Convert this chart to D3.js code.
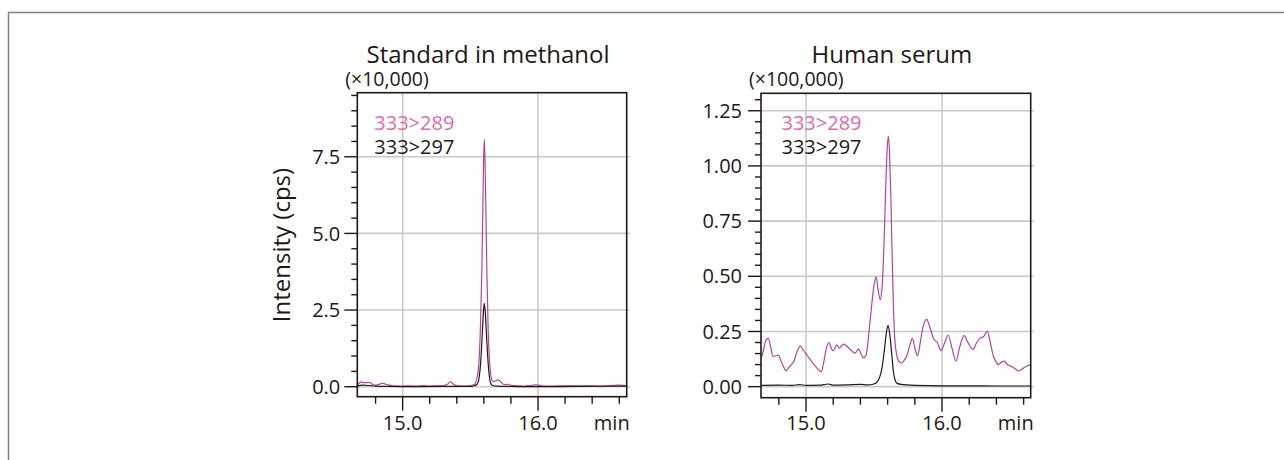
<!DOCTYPE html>
<html><head><meta charset="utf-8">
<script src="https://cdn.jsdelivr.net/npm/d3@7"></script>
<style>
html,body{margin:0;padding:0;background:#fff;}
svg{display:block;font-family:"Open Sans",sans-serif;}
</style></head>
<body><svg id="c" width="1284" height="460"></svg>
<script>
// ---------- DATA ----------
const panelTitles = ["Standard in methanol", "Human serum"];
const scaleLabels = ["(×10,000)", "(×100,000)"];
const seriesNames = ["333>289", "333>297"];
const xTickLabels = ["15.0", "16.0"];
const xMajorTicks = [15.0, 16.0];
const xMinorTicks = [14.8, 15.2, 15.4, 15.6, 15.8, 16.2, 16.4, 16.6];
const yMajorStd = [0, 2.5, 5.0, 7.5];
const yMajorSerum = [0, 0.25, 0.5, 0.75, 1.0, 1.25];

// Standard in methanol, 333>289 (×10,000 cps)
const stdT289 = [14.665,14.68,14.697,14.713,14.729,14.745,14.76,14.78,14.796,14.82,14.84,14.857,14.875,14.9,14.919,14.95,15.0,15.05,15.1,15.15,15.2,15.25,15.3,15.33,15.355,15.375,15.4,15.45,15.5,15.525,15.54,15.55,15.565,15.575,15.585,15.593,15.598,15.603,15.608,15.614,15.622,15.632,15.642,15.652,15.662,15.675,15.69,15.705,15.72,15.74,15.76,15.78,15.8,15.85,15.9,15.95,15.99,16.03,16.1,16.2,16.3,16.4,16.45,16.5,16.6,16.655];
const stdI289 = [0.06,0.12,0.16,0.13,0.13,0.14,0.13,0.07,0.05,0.07,0.10,0.11,0.08,0.05,0.04,0.03,0.02,0.03,0.02,0.04,0.02,0.03,0.03,0.08,0.16,0.08,0.03,0.02,0.03,0.06,0.15,0.30,0.90,2.0,3.8,6.0,7.4,8.07,7.4,6.0,3.8,1.8,0.8,0.35,0.20,0.16,0.20,0.22,0.18,0.09,0.07,0.08,0.04,0.03,0.02,0.04,0.06,0.03,0.02,0.03,0.02,0.03,0.02,0.03,0.05,0.04];
// Standard in methanol, 333>297
const stdT297 = [14.665,14.7,14.75,14.8,14.9,15.0,15.3,15.5,15.53,15.55,15.565,15.578,15.588,15.596,15.603,15.61,15.618,15.628,15.64,15.652,15.665,15.7,15.8,16.0,16.3,16.655];
const stdI297 = [0.02,0.05,0.04,0.02,0.01,0.0,0.01,0.01,0.03,0.08,0.30,0.90,1.7,2.4,2.72,2.45,1.8,1.0,0.35,0.10,0.04,0.02,0.01,0.0,0.01,0.02];

// Human serum, 333>289 (×100,000 cps)
const serT289 = [14.669,14.685,14.705,14.723,14.74,14.757,14.78,14.797,14.815,14.835,14.853,14.87,14.89,14.91,14.935,14.958,14.98,15.01,15.04,15.07,15.09,15.112,15.13,15.15,15.168,15.185,15.2,15.213,15.225,15.245,15.275,15.295,15.32,15.34,15.358,15.37,15.385,15.405,15.422,15.435,15.446,15.465,15.483,15.5,15.515,15.53,15.545,15.558,15.572,15.585,15.596,15.605,15.614,15.624,15.633,15.642,15.652,15.665,15.68,15.703,15.72,15.74,15.76,15.782,15.8,15.82,15.84,15.86,15.887,15.91,15.94,15.965,15.993,16.02,16.045,16.075,16.103,16.13,16.163,16.19,16.228,16.255,16.28,16.305,16.333,16.355,16.377,16.395,16.414,16.435,16.456,16.48,16.5,16.53,16.561,16.59,16.623,16.652];
const serI289 = [0.125,0.16,0.21,0.219,0.18,0.137,0.14,0.143,0.118,0.09,0.071,0.084,0.099,0.113,0.16,0.185,0.165,0.14,0.115,0.092,0.078,0.067,0.11,0.175,0.2,0.175,0.162,0.175,0.189,0.175,0.193,0.185,0.172,0.16,0.152,0.158,0.171,0.148,0.13,0.135,0.155,0.26,0.37,0.46,0.497,0.44,0.394,0.44,0.62,0.88,1.07,1.135,1.06,0.85,0.6,0.38,0.22,0.15,0.118,0.106,0.118,0.138,0.18,0.219,0.175,0.14,0.2,0.27,0.305,0.27,0.215,0.2,0.163,0.2,0.234,0.17,0.116,0.18,0.231,0.2,0.169,0.2,0.22,0.226,0.252,0.2,0.14,0.115,0.1,0.11,0.116,0.1,0.094,0.085,0.071,0.08,0.094,0.1];
// Human serum, 333>297
const serT297 = [14.669,14.8,14.9,14.95,15.0,15.1,15.165,15.2,15.3,15.4,15.45,15.5,15.52,15.54,15.56,15.575,15.59,15.603,15.615,15.63,15.642,15.655,15.67,15.7,15.8,16.0,16.2,16.4,16.652];
const serI297 = [0.006,0.007,0.006,0.009,0.006,0.007,0.012,0.007,0.008,0.01,0.008,0.012,0.02,0.04,0.09,0.16,0.24,0.278,0.24,0.15,0.07,0.03,0.015,0.01,0.006,0.004,0.004,0.003,0.003];

// ---------- DRAW ----------
const svg = d3.select("#c");
const INK = "#231815", PINK_LINE = "#b0449f", PINK_TEXT = "#e06aad", GRID = "#c8c8c8";

// outer frame (left and top)
svg.append("path").attr("d","M8.5,460 V12.5 H1284").attr("fill","none").attr("stroke","#808080").attr("stroke-width",1.5);

const panels = [
  {x0:357.3, x1:626.7, y0:92.7, y1:396.7, xd:[14.665,16.655], yd:[-0.326,9.59],
   yMajor:yMajorStd, yMinorStep:0.5, yMinorMax:9.5, fmt:d3.format(".1f"), labGap:17,
   series:[[stdT289,stdI289],[stdT297,stdI297]]},
  {x0:761, x1:1030.7, y0:93.3, y1:397.7, xd:[14.669,16.652], yd:[-0.05,1.329],
   yMajor:yMajorSerum, yMinorStep:0.05, yMinorMax:1.30, fmt:d3.format(".2f"), labGap:19,
   series:[[serT289,serI289],[serT297,serI297]]}
];

panels.forEach((p, pi) => {
  const x = d3.scaleLinear().domain(p.xd).range([p.x0, p.x1]);
  const y = d3.scaleLinear().domain(p.yd).range([p.y1, p.y0]);
  const g = svg.append("g");
  const cid = "clip" + pi;
  svg.append("clipPath").attr("id", cid).append("rect")
    .attr("x", p.x0).attr("y", p.y0).attr("width", p.x1 - p.x0).attr("height", p.y1 - p.y0);

  // grid
  g.selectAll(".hg").data(p.yMajor).join("line")
    .attr("x1", p.x0).attr("x2", p.x1 + 3).attr("y1", d => y(d)).attr("y2", d => y(d))
    .attr("stroke", GRID).attr("stroke-width", 1.6);
  g.selectAll(".vg").data(xMajorTicks).join("line")
    .attr("x1", d => x(d)).attr("x2", d => x(d)).attr("y1", p.y0).attr("y2", p.y1)
    .attr("stroke", GRID).attr("stroke-width", 1.6);

  // traces
  const line = d3.line().x(d => x(d[0])).y(d => y(d[1])).curve(d3.curveMonotoneX);
  const cols = [PINK_LINE, INK];
  p.series.forEach((s, si) => {
    const pts = s[0].map((t, i) => [t, s[1][i]]);
    g.append("path").datum(pts).attr("d", line).attr("fill", "none")
      .attr("stroke", cols[si]).attr("stroke-width", 1.2).attr("clip-path", `url(#${cid})`);
  });

  // frame
  g.append("rect").attr("x", p.x0).attr("y", p.y0).attr("width", p.x1 - p.x0).attr("height", p.y1 - p.y0)
    .attr("fill", "none").attr("stroke", INK).attr("stroke-width", 1.6);

  // y ticks
  const nMinor = Math.round(p.yMinorMax / p.yMinorStep);
  const yMinor = d3.range(0, nMinor + 1).map(i => +(i * p.yMinorStep).toFixed(4))
    .filter(v => !p.yMajor.some(m => Math.abs(m - v) < 1e-6));
  g.selectAll(".ymn").data(yMinor).join("line")
    .attr("x1", p.x0 - 6).attr("x2", p.x0).attr("y1", d => y(d)).attr("y2", d => y(d))
    .attr("stroke", INK).attr("stroke-width", 1.4);
  g.selectAll(".ymj").data(p.yMajor).join("line")
    .attr("x1", p.x0 - 13).attr("x2", p.x0).attr("y1", d => y(d)).attr("y2", d => y(d))
    .attr("stroke", INK).attr("stroke-width", 1.4);
  g.selectAll(".yl").data(p.yMajor).join("text")
    .attr("x", p.x0 - p.labGap).attr("y", d => y(d)).attr("dy", "0.36em")
    .attr("text-anchor", "end").attr("font-size", 20).attr("fill", INK)
    .text(d => p.fmt(d));

  // x ticks
  g.selectAll(".xmn").data(xMinorTicks.filter(t => x(t) <= p.x1)).join("line")
    .attr("x1", d => x(d)).attr("x2", d => x(d)).attr("y1", p.y1).attr("y2", p.y1 + 7)
    .attr("stroke", INK).attr("stroke-width", 1.4);
  g.selectAll(".xmj").data(xMajorTicks).join("line")
    .attr("x1", d => x(d)).attr("x2", d => x(d)).attr("y1", p.y1).attr("y2", p.y1 + 14)
    .attr("stroke", INK).attr("stroke-width", 1.4);
  g.selectAll(".xl").data(xMajorTicks).join("text")
    .attr("x", d => x(d)).attr("y", 430).attr("text-anchor", "middle")
    .attr("font-size", 20).attr("fill", INK).text((d, i) => xTickLabels[i]);
  g.append("text").attr("x", p.x1 + 3).attr("y", 430).attr("text-anchor", "end")
    .attr("font-size", 20).attr("fill", INK).text("min");

  // title, multiplier
  g.append("text").attr("x", (p.x0 + p.x1) / 2 - 4).attr("y", 62.5).attr("text-anchor", "middle")
    .attr("font-size", 24).attr("fill", INK).text(panelTitles[pi]);
  g.append("text").attr("x", p.x0 - 12).attr("y", 86).attr("font-size", 19.5).attr("fill", INK)
    .text(scaleLabels[pi]);

  // legend
  g.append("text").attr("x", p.x0 + 17 + (pi ? 3.5 : 0)).attr("y", 130).attr("font-size", 20)
    .attr("fill", PINK_TEXT).text(seriesNames[0]);
  g.append("text").attr("x", p.x0 + 17 + (pi ? 3.5 : 0)).attr("y", 154).attr("font-size", 20)
    .attr("fill", INK).text(seriesNames[1]);
});

// y axis title
svg.append("text").attr("transform", "translate(290,245) rotate(-90)")
  .attr("text-anchor", "middle").attr("font-size", 24).attr("fill", INK).text("Intensity (cps)");
</script></body></html>
